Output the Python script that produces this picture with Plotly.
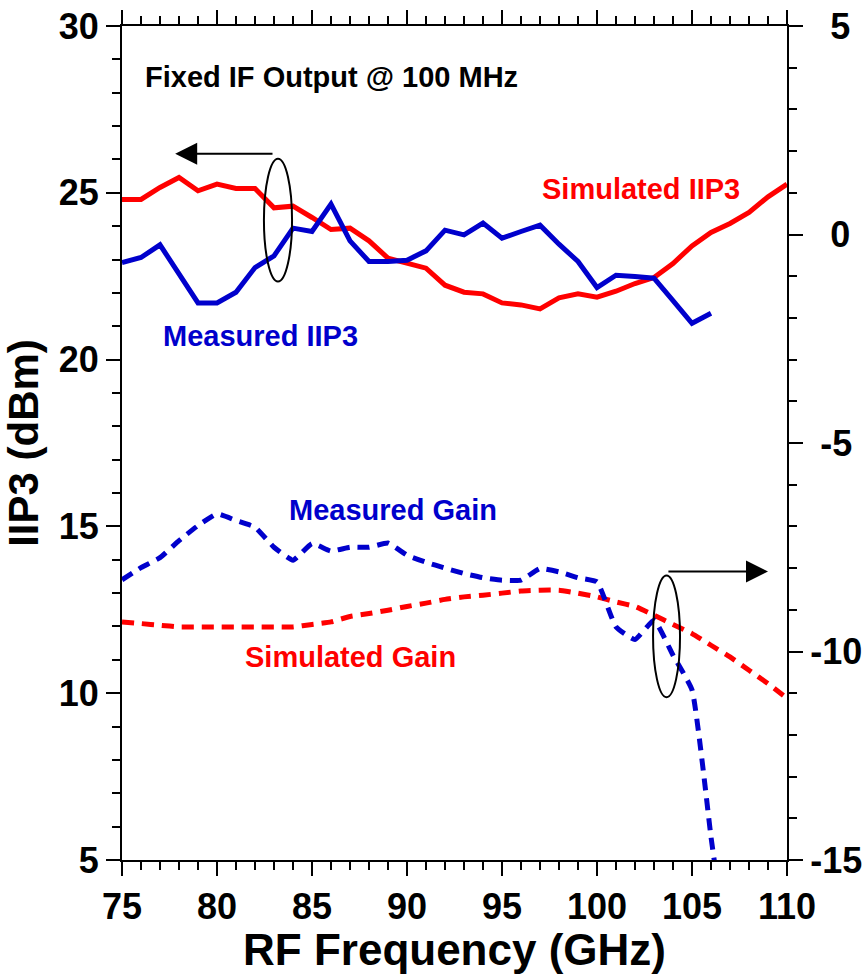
import plotly.graph_objects as go

# ---------------- data ----------------
freq_sim = list(range(75, 111))
sim_iip3 = [24.8, 24.8, 25.16, 25.46, 25.06, 25.26, 25.13, 25.13, 24.55, 24.6,
            24.26, 23.9, 23.94, 23.56, 23.04, 22.88, 22.74, 22.23, 22.02, 21.97,
            21.7, 21.64, 21.52, 21.85, 21.97, 21.87, 22.05, 22.28, 22.46, 22.88,
            23.41, 23.81, 24.08, 24.41, 24.88, 25.26]

freq_meas_iip3 = list(range(75, 107))
meas_iip3 = [22.91, 23.06, 23.44, 22.57, 21.70, 21.70, 22.02, 22.76, 23.11, 23.94,
             23.84, 24.66, 23.56, 22.94, 22.94, 22.98, 23.26, 23.88, 23.74, 24.09,
             23.64, 23.84, 24.03, 23.46, 22.94, 22.16, 22.53, 22.49, 22.44, 21.77,
             21.09, 21.39]

freq_meas_gain = list(range(75, 106)) + [106, 106.2]
meas_gain = [-8.28, -7.99, -7.75, -7.34, -6.98, -6.70, -6.86, -7.02, -7.50, -7.81,
             -7.41, -7.59, -7.50, -7.50, -7.40, -7.69, -7.86, -8.0, -8.13, -8.23,
             -8.29, -8.29, -8.01, -8.09, -8.23, -8.33, -9.41, -9.71, -9.25, -10.09,
             -10.92, -14.45, -15.1]

sim_gain = [-9.29, -9.33, -9.37, -9.41, -9.41, -9.41, -9.41, -9.41, -9.41, -9.41,
            -9.35, -9.29, -9.16, -9.09, -9.01, -8.92, -8.84, -8.75, -8.69, -8.65,
            -8.60, -8.55, -8.53, -8.53, -8.60, -8.69, -8.81, -8.92, -9.13, -9.35,
            -9.57, -9.85, -10.13, -10.45, -10.77, -11.12]

x_ticks = [75, 80, 85, 90, 95, 100, 105, 110]
y_ticks = [5, 10, 15, 20, 25, 30]
y2_ticks = [-15, -10, -5, 0, 5]
y2_ticktext = ["-15", "-10", "\u00a0-5", "\u00a0\u00a00", "\u00a0\u00a05"]

RED = "#FF0000"
BLUE = "#0000CC"
FONT = "Liberation Sans, Arial, sans-serif"

fig = go.Figure()
fig.add_trace(go.Scatter(x=freq_sim, y=sim_iip3, mode="lines",
                         line=dict(color=RED, width=5), yaxis="y"))
fig.add_trace(go.Scatter(x=freq_meas_iip3, y=meas_iip3, mode="lines",
                         line=dict(color=BLUE, width=5), yaxis="y"))
fig.add_trace(go.Scatter(x=freq_sim, y=sim_gain, mode="lines",
                         line=dict(color=RED, width=5, dash="12px,8px",
                                   shape="spline", smoothing=0.4), yaxis="y2"))
fig.add_trace(go.Scatter(x=freq_meas_gain, y=meas_gain, mode="lines",
                         line=dict(color=BLUE, width=5, dash="12px,8px",
                                   shape="spline", smoothing=0.4), yaxis="y2"))

axis_common = dict(showline=True, linecolor="black", linewidth=2, showgrid=False,
                   zeroline=False, ticks="outside", ticklen=14, tickwidth=2,
                   tickcolor="black", automargin=False,
                   tickfont=dict(family=FONT, size=36, color="black", weight="bold"))

fig.update_layout(
    width=863, height=974,
    margin=dict(l=122, r=76, t=26, b=114),
    paper_bgcolor="white", plot_bgcolor="white",
    showlegend=False,
    font=dict(family=FONT, color="black", weight="bold"),
    xaxis=dict(range=[75, 110], tickvals=x_ticks, mirror="ticks",
               minor=dict(dtick=1, ticks="outside", ticklen=8, tickwidth=2, tickcolor="black"),
               title=dict(text="RF Frequency (GHz)",
                          font=dict(family=FONT, size=44, color="black", weight="bold"),
                          standoff=0),
               **axis_common),
    yaxis=dict(range=[5, 30], tickvals=y_ticks,
               minor=dict(dtick=1, ticks="outside", ticklen=8, tickwidth=2, tickcolor="black"),
               title=dict(text="IIP3 (dBm)",
                          font=dict(family=FONT, size=42, color="black", weight="bold"),
                          standoff=8),
               **axis_common),
    yaxis2=dict(range=[-15, 5], tickvals=y2_ticks, ticktext=y2_ticktext,
                overlaying="y", side="right",
                minor=dict(dtick=1, ticks="outside", ticklen=8, tickwidth=2, tickcolor="black"),
                **axis_common),
)

# text labels
labels = [
    ("Fixed IF Output @ 100 MHz", 76.1, 28.47, "black", 29, "left"),
    ("Simulated IIP3", 102.3, 25.12, RED, 29, "center"),
    ("Measured IIP3", 82.3, 20.72, BLUE, 29, "center"),
    ("Measured Gain", 89.26, 15.48, BLUE, 29, "center"),
    ("Simulated Gain", 87.0, 11.08, RED, 29, "center"),
]
for txt, x, y, c, s, anc in labels:
    fig.add_annotation(x=x, y=y, xref="x", yref="y", text=txt, showarrow=False,
                       xanchor=anc, yanchor="middle",
                       font=dict(family=FONT, size=s, color=c, weight="bold"))

# arrows
fig.add_annotation(x=77.8, y=26.17, ax=83.0, ay=26.17, xref="x", yref="y",
                   axref="x", ayref="y", text="", showarrow=True,
                   arrowhead=2, arrowsize=2.2, arrowwidth=2, arrowcolor="black")
fig.add_annotation(x=109.0, y=13.65, ax=103.68, ay=13.65, xref="x", yref="y",
                   axref="x", ayref="y", text="", showarrow=True,
                   arrowhead=2, arrowsize=2.2, arrowwidth=2, arrowcolor="black")

# ellipses
fig.add_shape(type="circle", xref="x", yref="y", x0=82.47, x1=83.95, y0=22.34, y1=26.02,
              line=dict(color="black", width=2))
fig.add_shape(type="circle", xref="x", yref="y", x0=102.95, x1=104.37, y0=9.88, y1=13.53,
              line=dict(color="black", width=2))

fig.write_html("out.html")
